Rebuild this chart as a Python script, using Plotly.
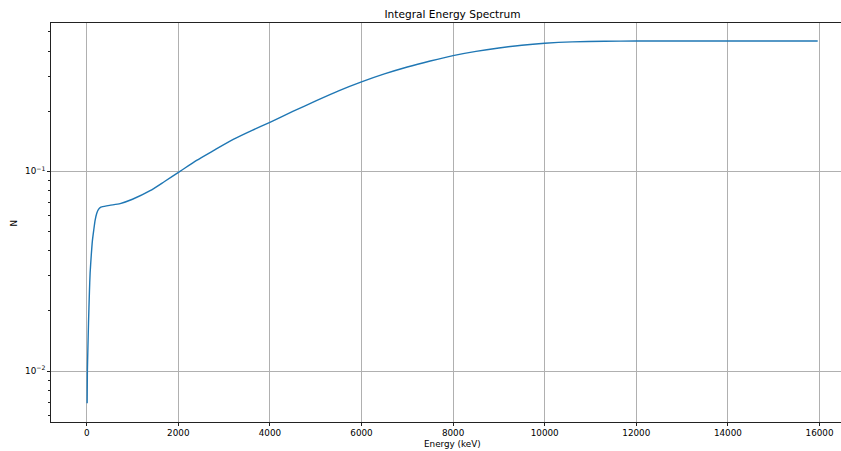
import plotly.graph_objects as go

# Energy (keV) and integral counts N
energy_kev = [10, 15, 25, 40, 60, 75, 100, 125, 155, 185, 220, 258, 300, 330, 500, 730,
              1000, 1385, 1700, 2037, 2400, 2767, 3200, 3600, 4000, 4500, 5015, 5500,
              6000, 6500, 7000, 7500, 8000, 8500, 9000, 9500, 10000, 10600, 11300,
              12000, 13000, 14000, 15000, 15960]
n_values = [0.0069, 0.0100, 0.0126, 0.0174, 0.0250, 0.0310, 0.0380, 0.0450, 0.0510,
            0.0570, 0.0617, 0.0645, 0.0660, 0.0664, 0.0676, 0.0690, 0.0725, 0.0800,
            0.0890, 0.1000, 0.1135, 0.1270, 0.1445, 0.1600, 0.1760, 0.1995, 0.2260,
            0.2530, 0.2805, 0.3075, 0.3330, 0.3570, 0.3800, 0.3990, 0.4150, 0.4285,
            0.4380, 0.4450, 0.4480, 0.4495, 0.4500, 0.4500, 0.4500, 0.4500]

x_ticks = [0, 2000, 4000, 6000, 8000, 10000, 12000, 14000, 16000]
y_major = [0.01, 0.1]
y_major_text = ["10<sup>\u22122</sup>", "10<sup>\u22121</sup>"]
y_minor = [m * 10 ** e for e in (-3, -2, -1) for m in range(2, 10)]

FONT = "DejaVu Sans"
FS = 8.8
fig = go.Figure()
fig.add_trace(go.Scatter(x=energy_kev, y=n_values, mode="lines",
                         line=dict(color="#1f77b4", width=1.4, shape="spline", smoothing=0.6)))

fig.update_layout(
    width=841, height=451,
    margin=dict(l=51, r=0, t=22.5, b=28.7),
    paper_bgcolor="white", plot_bgcolor="white",
    showlegend=False,
    font=dict(family=FONT, size=FS, color="black"),
    title=dict(text="Integral Energy Spectrum", x=452.5 / 841, xref="container",
               xanchor="center", y=1 - 14 / 451, yanchor="middle",
               font=dict(family=FONT, size=10.6, color="black")),
    annotations=[
        dict(text="Energy (keV)", xref="paper", yref="paper",
             x=(452.5 - 51) / 790, y=-(444.3 - 422.3) / 399.8,
             xanchor="center", yanchor="middle", showarrow=False,
             font=dict(family=FONT, size=FS, color="black")),
        dict(text="N", xref="paper", yref="paper",
             x=-(51 - 13.7) / 790, y=(422.3 - 222.7) / 399.8,
             xanchor="center", yanchor="middle", showarrow=False, textangle=-90,
             font=dict(family=FONT, size=FS, color="black")),
    ],
)
fig.update_xaxes(
    range=[-779, 16469], tickvals=x_ticks, tickformat="d",
    showline=True, linecolor="#222", linewidth=0.8, mirror=True,
    ticks="outside", ticklen=3, tickwidth=0.8, tickcolor="#222",
    showgrid=True, gridcolor="#b0b0b0", gridwidth=0.7, zeroline=False,
    tickfont=dict(family=FONT, size=FS),
)
fig.update_yaxes(
    type="log", range=[-2.255, -0.257],
    tickvals=y_major, ticktext=y_major_text,
    showline=True, linecolor="#222", linewidth=0.8, mirror=False,
    ticks="outside", ticklen=3, tickwidth=0.8, tickcolor="#222",
    showgrid=True, gridcolor="#b0b0b0", gridwidth=0.7, zeroline=False,
    tickfont=dict(family=FONT, size=FS),
    minor=dict(tickvals=y_minor, ticks="outside", ticklen=1.7, tickwidth=0.7,
               tickcolor="#222", showgrid=False),
)

fig.write_html("out.html")
